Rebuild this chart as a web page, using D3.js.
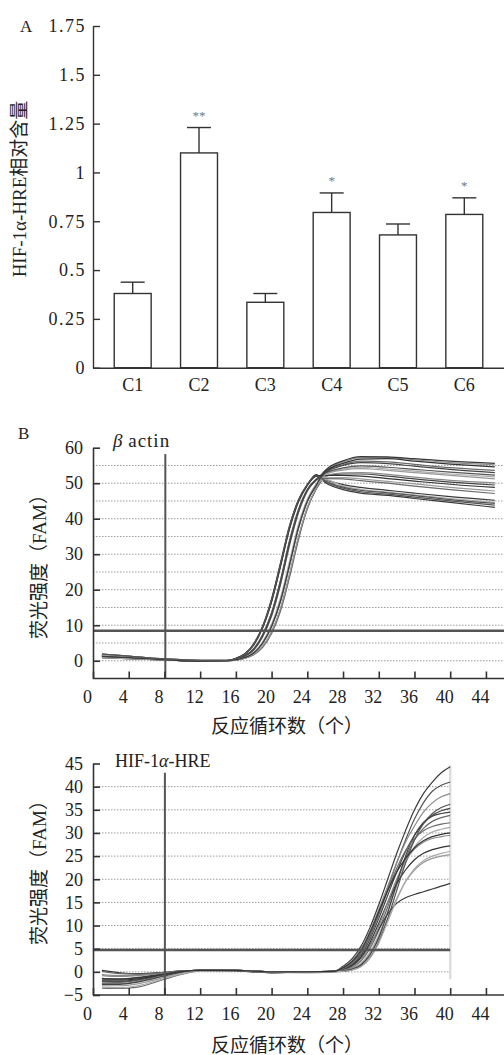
<!DOCTYPE html>
<html>
<head>
<meta charset="utf-8">
<style>
    body { margin: 0; background: #fff; }
    text { font-family: "Liberation Serif", "Noto Sans CJK SC", serif; fill: #222; }
</style>
</head>
<body>
<svg id="container" width="504" height="1055"></svg>
<script src="https://cdn.jsdelivr.net/npm/d3@7/dist/d3.min.js"></script>
<script>
// ---- panel A data ----
let groups = ["C1", "C2", "C3", "C4", "C5", "C6"]
let means = [0.38, 1.10, 0.335, 0.795, 0.68, 0.785]
let errors = [0.058, 0.13, 0.045, 0.10, 0.056, 0.085]
let stars = ["", "**", "", "*", "", "*"]
let barTicks = [0, 0.25, 0.5, 0.75, 1, 1.25, 1.5, 1.75]
let barTickLabels = ["0", "0.25", "0.5", "0.75", "1", "1.25", "1.5", "1.75"]

// ---- panel B (beta actin) amplification curves ----
let actinCycles = [1, 4, 8, 12, 15, 16, 17, 18, 19, 20, 21, 22, 23, 24, 25, 26, 28, 30, 33, 36, 40, 45]
let actinCurves = [
    [1.6, 1.1, 0.4, 0.0, 0.0, 0.6, 1.9, 4.6, 9.5, 17, 27, 37.5, 45, 49.5, 52, 51, 49.6, 48.8, 48, 47.2, 46.2, 45.2],
    [1.2, 0.9, 0.3, -0.1, 0.0, 0.6, 1.8, 4.4, 9.2, 16.5, 26.5, 37, 44.6, 49.3, 52.3, 50.5, 48.6, 47.6, 46.9, 46.1, 45, 43.8],
    [1.9, 1.3, 0.5, 0.1, 0.1, 0.4, 1.3, 3.2, 7, 13, 22, 33, 42, 48, 51, 53.5, 56, 57.2, 57.2, 56.6, 55.8, 55.2],
    [0.9, 0.6, 0.2, 0.0, 0.0, 0.4, 1.3, 3.3, 7.2, 13.3, 22.4, 33.3, 42.2, 48, 51, 52, 52.6, 52.6, 52, 51.2, 50.3, 49.5],
    [1.4, 1.0, 0.35, -0.05, 0.05, 0.3, 0.9, 2.2, 5, 9.8, 17, 27, 37.5, 45, 49.5, 53, 55.2, 56.2, 56, 55.3, 54.4, 53.6],
    [1.6, 1.1, 0.4, 0.0, 0.0, 0.3, 1.0, 2.4, 5.3, 10.3, 17.8, 28, 38.3, 45.5, 49.8, 52.6, 54, 54.5, 54, 53.4, 52.6, 51.8],
    [1.2, 0.9, 0.3, -0.1, 0.0, 0.2, 0.7, 1.8, 4, 8, 14.5, 24, 34.5, 43, 48.5, 53.2, 55.6, 56.8, 56.9, 56.2, 55.4, 54.6],
    [1.9, 1.3, 0.5, 0.1, 0.1, 0.4, 1.2, 3.0, 6.7, 12.5, 21.4, 32.3, 41.5, 47.7, 50.8, 51.5, 51.6, 51.2, 50.5, 49.8, 48.8, 47.8],
    [0.9, 0.6, 0.2, 0.0, 0.0, 0.7, 2.0, 4.8, 9.8, 17.5, 27.6, 38, 45.3, 49.6, 52.4, 50.2, 48.2, 47.2, 46.6, 45.7, 44.6, 43.2],
    [1.4, 1.0, 0.35, -0.05, 0.05, 0.4, 1.4, 3.4, 7.4, 13.6, 22.8, 33.8, 42.6, 48.3, 51.2, 52.8, 54.3, 54.9, 54.5, 53.9, 53.1, 52.3],
    [1.6, 1.1, 0.4, 0.0, 0.0, 0.3, 0.9, 2.1, 4.8, 9.5, 16.6, 26.5, 37, 44.7, 49.4, 52, 52.9, 53, 52.5, 51.7, 50.8, 50.1],
    [1.2, 0.9, 0.3, -0.1, 0.0, 0.4, 1.3, 3.1, 6.9, 12.8, 21.7, 32.7, 41.8, 47.9, 50.9, 53, 55, 55.8, 55.5, 54.8, 53.9, 53],
    [1.9, 1.3, 0.5, 0.1, 0.1, 0.2, 0.7, 1.7, 3.8, 7.7, 14, 23.4, 34, 42.7, 48.3, 51.3, 51.2, 50.7, 50, 49.2, 48.2, 47.1],
    [0.9, 0.6, 0.2, 0.0, 0.0, 0.3, 0.9, 2.3, 5.1, 10, 17.3, 27.4, 37.8, 45.2, 49.6, 51, 49.2, 48.3, 47.5, 46.7, 45.7, 44.6],
    [1.4, 1.0, 0.35, -0.05, 0.05, 0.6, 1.9, 4.5, 9.4, 16.8, 26.8, 37.3, 44.9, 49.5, 52, 52.2, 52.2, 52, 51.3, 50.6, 49.7, 48.8],
    [1.6, 1.1, 0.4, 0.0, 0.0, 0.2, 0.7, 1.8, 4.1, 8.2, 14.8, 24.4, 34.8, 43.2, 48.6, 52.4, 53.7, 54.1, 53.6, 53, 52.2, 51.2],
    [1.2, 0.9, 0.3, -0.1, 0.0, 0.3, 0.9, 2.2, 5, 9.7, 16.9, 26.9, 37.4, 44.9, 49.4, 53.6, 56.3, 57.5, 57.4, 56.9, 56.2, 55.6],
    [1.9, 1.3, 0.5, 0.1, 0.1, 0.6, 1.9, 4.7, 9.6, 17.2, 27.3, 37.8, 45.2, 49.7, 52.1, 50.7, 48.9, 48, 47.3, 46.5, 45.4, 44.3]
]
let actinThreshold = 8.45
let actinStart = 8.1

// ---- panel B (HIF-1a-HRE) amplification curves ----
let hifCycles = [1, 3, 5, 8, 10, 12, 16, 20, 24, 27, 28, 29, 30, 31, 32, 33, 34, 35, 36, 37, 38, 39, 40]
let hifCurves = [
    [-1.5, -1.5, -1.2, -0.4, 0.1, 0.3, 0.3, 0.0, 0.0, 0.1, 1.2, 2.8, 5.5, 9.5, 14.5, 20, 25.5, 30.5, 35, 38.5, 41, 43, 44.3],
    [-2.5, -2.5, -2.0, -0.8, 0.0, 0.3, 0.3, 0.0, 0.0, 0.1, 0.8, 2, 4.2, 7.8, 12.5, 18, 23.5, 28.5, 33, 36.5, 39, 40.3, 41],
    [-0.6, -0.8, -0.7, -0.2, 0.2, 0.3, 0.3, -0.1, 0.0, 0.1, 1, 2.4, 5, 8.8, 13.5, 18.5, 23.5, 28, 31.5, 34.5, 36.5, 37.8, 38.5],
    [-2.0, -2.1, -1.7, -0.6, 0.1, 0.3, 0.3, 0.0, 0.0, 0.1, 0.6, 1.6, 3.6, 7, 11.5, 16.5, 21.5, 26, 29.5, 32, 33.8, 34.8, 35.3],
    [-3.5, -3.6, -3.3, -1.6, -0.5, 0.2, 0.3, 0.0, -0.1, 0.0, 0.3, 0.9, 2.3, 5, 9, 14, 19.5, 24.5, 28.5, 31, 32.5, 33.3, 33.8],
    [-2.4, -2.4, -1.9, -0.7, 0.0, 0.3, 0.3, 0.0, 0.0, 0.1, 0.2, 0.7, 1.8, 4.2, 8, 13, 18.5, 23.5, 27, 29, 30.2, 30.8, 31.2],
    [0.3, -0.2, -0.4, -0.1, 0.2, 0.3, 0.2, -0.2, 0.0, 0.1, 0.5, 1.4, 3.2, 6.3, 10.5, 15, 19, 22, 24.2, 25.6, 26.4, 26.9, 27.2],
    [-3.0, -3.0, -2.6, -1.2, -0.2, 0.3, 0.3, -0.1, -0.2, 0.0, 0.2, 0.6, 1.6, 3.8, 7.2, 11.5, 15.8, 19.5, 22, 23.6, 24.5, 25, 25.3],
    [-1.4, -1.6, -1.3, -0.5, 0.1, 0.3, 0.3, 0.0, 0.0, 0.1, 0.4, 1.2, 3, 5.8, 9.2, 12.5, 14.8, 16, 16.7, 17.3, 17.9, 18.5, 19.1],
    [-2.1, -2.2, -1.8, -0.6, 0.1, 0.3, 0.3, 0.0, 0.0, 0.1, 0.1, 0.4, 1.2, 3, 6.5, 11.5, 17.5, 23.5, 28.5, 32, 34.2, 35.5, 36.2],
    [-0.8, -1.0, -0.8, -0.3, 0.2, 0.3, 0.3, -0.1, 0.0, 0.1, 0.3, 1, 2.6, 5.5, 9.8, 15, 20, 24, 26.5, 28, 28.8, 29.2, 29.5],
    [-2.7, -2.7, -2.2, -0.9, 0.0, 0.3, 0.3, 0.0, 0.0, 0.1, 0.2, 0.6, 1.5, 3.6, 7.4, 12.8, 19, 25, 29.5, 32.3, 33.6, 34.2, 34.5],
    [0.1, -0.4, -0.5, -0.1, 0.2, 0.3, 0.2, -0.2, 0.0, 0.1, 0.7, 1.8, 4, 7.6, 12.3, 17.5, 22.3, 26.2, 28.8, 30.5, 31.4, 31.9, 32.2],
    [-3.3, -3.4, -3.0, -1.4, -0.4, 0.2, 0.3, 0.0, -0.1, 0.0, 0.1, 0.4, 1.1, 2.9, 6.2, 10.8, 15.5, 19.5, 22.3, 24, 25, 25.6, 26],
    [-1.8, -1.8, -1.5, -0.5, 0.1, 0.3, 0.3, 0.0, 0.0, 0.1, 0.9, 2.2, 4.6, 8.4, 13, 17.5, 21.5, 24.5, 26.8, 28.3, 29.2, 29.7, 30]
]
let hifThreshold = 4.7
let hifStart = 8.05
let hifLastCycle = 40

let cycleTicks = [0, 4, 8, 12, 16, 20, 24, 28, 32, 36, 40, 44]
let curveGrays = ["#3a3a3a", "#555", "#8a8a8a", "#444", "#6a6a6a", "#aaa", "#333", "#999"]

let svg = d3.select("#container")

// =================== A: bar chart ===================
let yBar = d3.scaleLinear().domain([0, 1.75]).range([367.7, 26])
let xBar = d3.scaleBand().domain(groups).range([93, 504]).paddingInner(0.443).paddingOuter(0.32)

let panelA = svg.append("g")

panelA.append("g")
    .attr("transform", "translate(93,0)")
    .call(d3.axisLeft(yBar).tickValues(barTicks).tickSize(-7).tickSizeOuter(0).tickPadding(7)
        .tickFormat((d, i) => barTickLabels[i]))
    .call(g => g.selectAll("text").attr("font-size", 18).attr("letter-spacing", 1.5)
        .style("font-family", "Liberation Serif"))

panelA.append("g")
    .attr("transform", "translate(0,367.7)")
    .call(d3.axisBottom(xBar).tickSize(0).tickSizeOuter(0).tickPadding(11))
    .call(g => g.selectAll("text").attr("font-size", 18).style("font-family", "Liberation Serif"))

panelA.selectAll(".domain, .tick line").attr("stroke", "#333").attr("stroke-width", 1.4)

// bars
panelA.selectAll("rect.bar")
    .data(groups).enter().append("rect")
    .attr("class", "bar")
    .attr("x", d => xBar(d))
    .attr("width", xBar.bandwidth())
    .attr("y", (d, i) => yBar(means[i]))
    .attr("height", (d, i) => yBar(0) - yBar(means[i]))
    .attr("fill", "#fff")
    .attr("stroke", "#333")
    .attr("stroke-width", 1.4)

// error bars
let capHalf = 12
groups.forEach((g, i) => {
    let cx = xBar(g) + xBar.bandwidth() / 2
    let errTop = yBar(means[i] + errors[i])
    panelA.append("line").attr("x1", cx).attr("x2", cx)
        .attr("y1", yBar(means[i])).attr("y2", errTop)
        .attr("stroke", "#333").attr("stroke-width", 1.4)
    panelA.append("line").attr("x1", cx - capHalf).attr("x2", cx + capHalf)
        .attr("y1", errTop).attr("y2", errTop)
        .attr("stroke", "#333").attr("stroke-width", 1.4)
    if (stars[i]) {
        panelA.append("text").attr("x", cx).attr("y", errTop - 8)
            .attr("text-anchor", "middle").attr("font-size", 13)
            .style("fill", "#777").text(stars[i])
    }
})

panelA.append("text").attr("x", 20).attr("y", 32).attr("font-size", 17).text("A")

panelA.append("text")
    .attr("transform", "translate(26,189) rotate(-90)")
    .attr("text-anchor", "middle").attr("font-size", 19)
    .text("HIF-1α-HRE相对含量")

// =================== B: amplification plots ===================
let xCyc = d3.scaleLinear().domain([0, 46]).range([93, 93 + 46 * 8.93])

function drawPanel(opt) {
    let g = svg.append("g")
    let y = opt.y

    // dotted grid
    g.selectAll("line.grid")
        .data(opt.grid).enter().append("line")
        .attr("class", "grid")
        .attr("x1", 93).attr("x2", opt.gridEnd)
        .attr("y1", d => y(d)).attr("y2", d => y(d))
        .attr("stroke", "#9a9a9a").attr("stroke-width", 1)
        .attr("stroke-dasharray", "1.5,1.5")

    if (opt.lastCycle) {
        g.append("line")
            .attr("x1", xCyc(opt.lastCycle)).attr("x2", xCyc(opt.lastCycle))
            .attr("y1", y(44.6)).attr("y2", y(-1.6))
            .attr("stroke", "#ddd").attr("stroke-width", 2.5)
    }

    // curves
    let line = d3.line()
        .x(d => xCyc(d[0]))
        .y(d => y(d[1]))
        .curve(d3.curveMonotoneX)

    g.selectAll("path.curve")
        .data(opt.curves).enter().append("path")
        .attr("class", "curve")
        .attr("d", d => line(d3.zip(opt.cycles, d)))
        .attr("fill", "none")
        .attr("stroke", (d, i) => curveGrays[i % curveGrays.length])
        .attr("stroke-width", 1.2)

    // threshold + start line
    g.append("line")
        .attr("x1", 93).attr("x2", opt.thresholdEnd)
        .attr("y1", y(opt.threshold)).attr("y2", y(opt.threshold))
        .attr("stroke", "#555").attr("stroke-width", 2.5)
    g.append("line")
        .attr("x1", xCyc(opt.start)).attr("x2", xCyc(opt.start))
        .attr("y1", y(opt.startTop)).attr("y2", y(opt.y.domain()[0]))
        .attr("stroke", "#555").attr("stroke-width", 2)

    // axes
    g.append("g")
        .attr("transform", "translate(93,0)")
        .call(d3.axisLeft(y).tickValues(opt.yTicks).tickSize(-7).tickSizeOuter(0).tickPadding(10))
        .call(s => s.selectAll("text").attr("font-size", 18))

    g.append("g")
        .attr("transform", `translate(0,${y(y.domain()[0])})`)
        .call(d3.axisBottom(xCyc).tickValues(cycleTicks).tickSize(-7).tickSizeOuter(0).tickPadding(12))
        .call(s => s.selectAll("text").attr("font-size", 18).attr("dx", -6))
        .call(s => s.select(".domain").attr("d", `M93,0H504`))

    g.selectAll(".domain, .tick line").attr("stroke", "#333").attr("stroke-width", 1.6)
    g.selectAll("text").style("font-family", "Liberation Serif")

    // titles
    g.append("text")
        .attr("transform", `translate(46,${opt.yTitleY}) rotate(-90)`)
        .attr("text-anchor", "middle").attr("font-size", 19)
        .text("荧光强度（FAM）")
    g.append("text")
        .attr("x", 287).attr("y", opt.xTitleY)
        .attr("text-anchor", "middle").attr("font-size", 19)
        .text("反应循环数（个）")
    return g
}

let yActin = d3.scaleLinear().domain([-5, 60]).range([678.5, 447.7])
let actinPanel = drawPanel({
    y: yActin,
    cycles: actinCycles,
    curves: actinCurves,
    grid: [0, 5, 10, 15, 20, 25, 30, 35, 40, 45, 50, 55],
    gridEnd: 504,
    threshold: actinThreshold,
    thresholdEnd: 504,
    start: actinStart,
    startTop: 58.2,
    yTicks: [0, 10, 20, 30, 40, 50, 60],
    yTitleY: 562,
    xTitleY: 733
})
let actinLabel = actinPanel.append("text").attr("x", 113).attr("y", 447).attr("font-size", 19)
actinLabel.append("tspan").attr("font-style", "italic").text("β")
actinLabel.append("tspan").attr("letter-spacing", 1).text(" actin")

let yHif = d3.scaleLinear().domain([-5, 45]).range([995, 763.5])
let hifPanel = drawPanel({
    y: yHif,
    cycles: hifCycles,
    curves: hifCurves,
    grid: [0, 5, 10, 15, 20, 25, 30, 35, 40],
    gridEnd: xCyc(hifLastCycle),
    lastCycle: hifLastCycle,
    threshold: hifThreshold,
    thresholdEnd: xCyc(hifLastCycle),
    start: hifStart,
    startTop: 43,
    yTicks: [-5, 0, 5, 10, 15, 20, 25, 30, 35, 40, 45],
    yTitleY: 868,
    xTitleY: 1052
})
let hifLabel = hifPanel.append("text").attr("x", 115).attr("y", 767).attr("font-size", 18)
hifLabel.append("tspan").text("HIF-1")
hifLabel.append("tspan").attr("font-style", "italic").text("α")
hifLabel.append("tspan").text("-HRE")

svg.append("text").attr("x", 18).attr("y", 439).attr("font-size", 17).text("B")
</script>
</body>
</html>
